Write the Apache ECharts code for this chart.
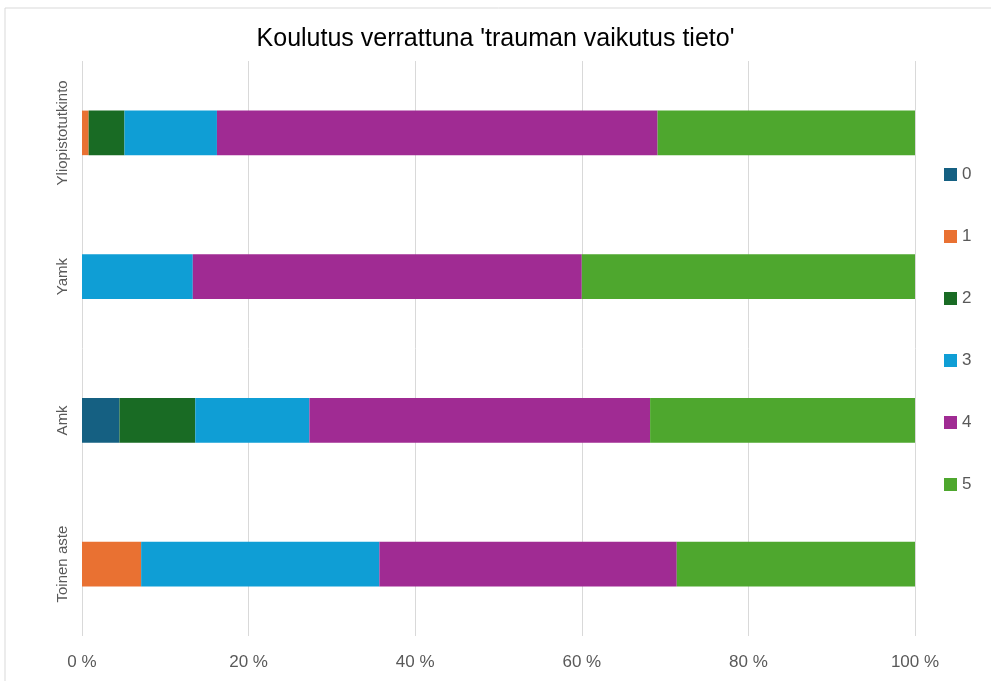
<!DOCTYPE html>
<html>
<head>
<meta charset="utf-8">
<script src="https://cdn.jsdelivr.net/npm/echarts@6/dist/echarts.min.js"></script>
<style>
  html, body { margin: 0; padding: 0; background: #fff; }
  #main { width: 991px; height: 681px; }
</style>
</head>
<body>
<div id="main"></div>
<script>
// luokat alhaalta ylös
var categories = ["Toinen aste", "Amk", "Yamk", "Yliopistotutkinto"];
var seriesNames = ["0", "1", "2", "3", "4", "5"];
// osuudet prosentteina, yksi taulukko per vastaus
var val0 = [0, 4.5, 0, 0];
var val1 = [7.1, 0, 0, 0.8];
var val2 = [0, 9.1, 0, 4.3];
var val3 = [28.6, 13.7, 13.3, 11.1];
var val4 = [35.7, 40.9, 46.7, 52.9];
var val5 = [28.6, 31.8, 40.0, 30.9];
var xTicks = [0, 20, 40, 60, 80, 100];

var colors = ["#156082", "#E97132", "#196B24", "#0F9ED5", "#A02B93", "#4EA72E"];
var allVals = [val0, val1, val2, val3, val4, val5];
var font = "'Liberation Sans', Roboto, sans-serif";

var chart = echarts.init(document.getElementById("main"));
chart.setOption({
  animation: false,
  color: colors,
  title: {
    text: "Koulutus verrattuna 'trauman vaikutus tieto'",
    left: "center",
    top: 22,
    textStyle: { fontFamily: font, fontSize: 25, fontWeight: "normal", color: "#000" }
  },
  legend: {
    orient: "vertical",
    left: 944,
    top: 166,
    padding: 0,
    itemWidth: 13,
    itemHeight: 13,
    itemGap: 45,
    icon: "rect",
    textStyle: { fontFamily: font, fontSize: 17, color: "#595959" },
    data: seriesNames
  },
  graphic: [{
    type: "rect",
    shape: { x: 5, y: 8, width: 1000, height: 700 },
    style: { fill: "none", stroke: "#d9d9d9", lineWidth: 1 },
    silent: true
  }],
  grid: { left: 82, right: 76, top: 61, bottom: 45 },
  xAxis: {
    type: "value",
    min: 0,
    max: 100,
    interval: 20,
    axisLine: { show: false },
    axisTick: { show: false },
    splitLine: { lineStyle: { color: "#d9d9d9" } },
    axisLabel: {
      fontFamily: font, fontSize: 17, color: "#595959", margin: 18,
      formatter: function (v) { return xTicks.indexOf(v) >= 0 ? v + " %" : ""; }
    }
  },
  yAxis: {
    type: "category",
    data: categories,
    axisLine: { show: false },
    axisTick: { show: false },
    axisLabel: { interval: 0, rotate: 90, fontFamily: font, fontSize: 15, color: "#595959", margin: 12 }
  },
  series: seriesNames.map(function (n, i) {
    return {
      name: n,
      type: "bar",
      stack: "total",
      barWidth: "31%",
      data: allVals[i]
    };
  })
});
</script>
</body>
</html>
